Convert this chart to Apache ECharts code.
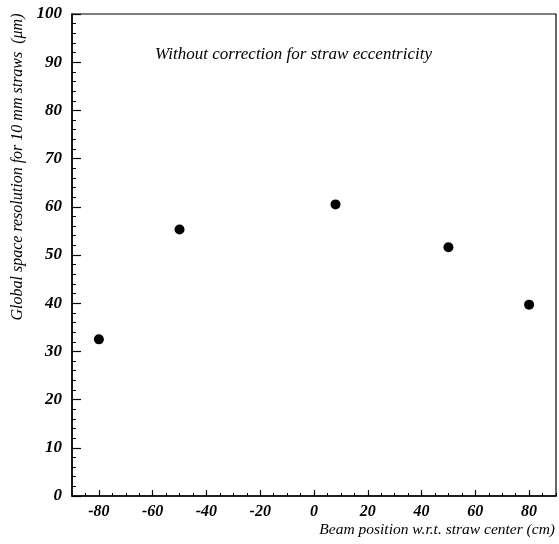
<!DOCTYPE html>
<html>
<head>
<meta charset="utf-8">
<script src="https://cdn.jsdelivr.net/npm/echarts@6/dist/echarts.min.js"></script>
<style>
  html, body { margin: 0; padding: 0; background: #fff; }
  #chart { width: 559px; height: 544px; }
</style>
</head>
<body>
<div id="chart"></div>
<script>
// Beam position along the straw (cm)
const beamPosition = [-80, -50, 8, 50, 80];
// Global space resolution (µm)
const resolution = [32.5, 55.3, 60.5, 51.6, 39.7];

const xTicks = [-80, -60, -40, -20, 0, 20, 40, 60, 80];
const yTicks = [0, 10, 20, 30, 40, 50, 60, 70, 80, 90, 100];

const serif = '"Liberation Serif", "DejaVu Serif", serif';
const points = beamPosition.map((x, i) => [x, resolution[i]]);

const labelStyle = {
  fontFamily: serif, fontStyle: 'italic', fontWeight: 'bold', color: '#000'
};

const chart = echarts.init(document.getElementById('chart'), null, { renderer: 'canvas' });
chart.setOption({
  animation: false,
  backgroundColor: '#fff',
  grid: {
    left: 72, right: 2, top: 14, bottom: 48,
    show: true, borderColor: '#000', borderWidth: 1.2, backgroundColor: 'transparent'
  },
  xAxis: [
    {
      // fine ticks every 5 cm, labels every 20 cm
      type: 'value', min: -90, max: 90, interval: 5,
      axisLine: { show: true, onZero: false, lineStyle: { color: '#000', width: 1.5 } },
      axisTick: { show: true, inside: true, length: 3, lineStyle: { color: '#000', width: 1 } },
      splitLine: { show: false },
      axisLabel: Object.assign({}, labelStyle, {
        fontSize: 16, margin: 8,
        formatter: v => (xTicks.indexOf(v) >= 0 ? String(v) : '')
      })
    },
    {
      // taller ticks at the labelled positions
      type: 'value', min: -90, max: 90, position: 'bottom',
      axisLine: { show: false, onZero: false },
      axisTick: { show: true, inside: true, length: 6, customValues: xTicks,
        lineStyle: { color: '#000', width: 1.2 } },
      splitLine: { show: false },
      axisLabel: { show: false }
    }
  ],
  yAxis: {
    type: 'value', min: 0, max: 100, interval: 10,
    axisLine: { show: true, onZero: false, lineStyle: { color: '#000', width: 1.5 } },
    axisTick: { show: true, inside: true, length: 9, lineStyle: { color: '#000', width: 1.2 } },
    minorTick: { show: true, splitNumber: 5, length: 4, lineStyle: { color: '#000', width: 1 } },
    splitLine: { show: false },
    axisLabel: Object.assign({}, labelStyle, {
      fontSize: 17, margin: 10,
      formatter: v => (yTicks.indexOf(v) >= 0 ? String(v) : '')
    })
  },
  graphic: [
    {
      type: 'text', left: 155, top: 46,
      style: { text: 'Without correction for straw eccentricity', font: 'italic 17px ' + serif, fill: '#000' }
    },
    {
      type: 'text', right: 4, top: 522,
      style: { text: 'Beam position w.r.t. straw center (cm)', font: 'italic 15.5px ' + serif, fill: '#000' }
    },
    {
      type: 'text', x: 18, y: 167, rotation: Math.PI / 2,
      style: {
        text: 'Global space resolution for 10 mm straws  (\u03bcm)',
        font: 'italic 16px ' + serif, fill: '#000', align: 'center', verticalAlign: 'middle'
      }
    }
  ],
  series: [{
    type: 'scatter',
    xAxisIndex: 0,
    data: points,
    symbol: 'circle',
    symbolSize: 10,
    itemStyle: { color: '#000', opacity: 1 }
  }]
});
</script>
</body>
</html>
